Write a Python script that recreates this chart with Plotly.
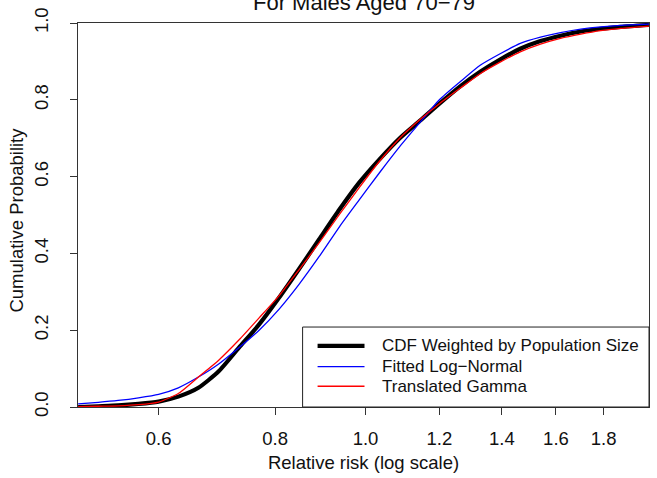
import plotly.graph_objects as go
import numpy as np

# Relative-risk grid (log-spaced) shared by the three curves
relative_risk = [0.492, 0.517, 0.543, 0.571, 0.600, 0.630, 0.662, 0.696, 0.732,
                 0.769, 0.808, 0.849, 0.892, 0.938, 0.985, 1.035, 1.088, 1.143,
                 1.200, 1.263, 1.327, 1.394, 1.465, 1.540, 1.618, 1.701, 1.787,
                 1.878, 2.013]

# Population-weighted empirical CDF
cdf_weighted = [0.000, 0.002, 0.004, 0.008, 0.014, 0.027, 0.050, 0.093, 0.155,
                0.215, 0.285, 0.360, 0.437, 0.515, 0.585, 0.645, 0.700, 0.745,
                0.790, 0.835, 0.873, 0.905, 0.933, 0.953, 0.967, 0.978, 0.985,
                0.990, 0.995]

# Fitted log-normal CDF
cdf_lognormal = [0.008, 0.012, 0.017, 0.024, 0.033, 0.050, 0.078, 0.112, 0.155,
                 0.200, 0.255, 0.320, 0.392, 0.470, 0.540, 0.610, 0.678, 0.740,
                 0.800, 0.847, 0.890, 0.920, 0.947, 0.963, 0.975, 0.984, 0.990,
                 0.994, 0.997]

# Translated gamma CDF
cdf_gamma = [0.001, 0.002, 0.003, 0.006, 0.013, 0.035, 0.078, 0.122, 0.175,
             0.232, 0.290, 0.358, 0.428, 0.502, 0.572, 0.640, 0.700, 0.748,
             0.790, 0.830, 0.868, 0.898, 0.925, 0.945, 0.960, 0.971, 0.980,
             0.986, 0.992]

x_ticks = [0.6, 0.8, 1.0, 1.2, 1.4, 1.6, 1.8]
x_tick_labels = ["0.6", "0.8", "1.0", "1.2", "1.4", "1.6", "1.8"]
y_ticks = [0.0, 0.2, 0.4, 0.6, 0.8, 1.0]
y_tick_labels = ["0.0", "0.2", "0.4", "0.6", "0.8", "1.0"]

series_names = ["CDF Weighted by Population Size", "Fitted Log\u2212Normal", "Translated Gamma"]
series_colors = ["#000000", "#0000FF", "#FF0000"]
series_widths = [4.2, 1.3, 1.3]
series_values = [cdf_weighted, cdf_lognormal, cdf_gamma]

FONT = "Liberation Sans, Arial, sans-serif"
AXIS_SIZE = 18.5
LEGEND_SIZE = 17
W, H = 657, 478
L, R, T, B = 78, 650, 18, 407  # plot area edges in pixels

fig = go.Figure()
for name, vals, col, wd in zip(series_names, series_values, series_colors, series_widths):
    fig.add_trace(go.Scatter(x=relative_risk, y=vals, mode="lines", name=name,
                             line=dict(color=col, width=wd, shape="spline", smoothing=0.6),
                             showlegend=False))

def px(xp):
    return (xp - L) / (R - L)

def py(yp):
    return (B - yp) / (B - T)

# Legend box (bottom-right)
shapes = [dict(type="rect", xref="paper", yref="paper",
               x0=px(303), x1=px(650), y0=py(407), y1=py(326),
               line=dict(color="#222", width=1), fillcolor="white", layer="above")]
annotations = []
rows = [345, 366, 386]
for name, col, wd, ry in zip(series_names, series_colors, series_widths, rows):
    shapes.append(dict(type="line", xref="paper", yref="paper",
                       x0=px(318), x1=px(365), y0=py(ry), y1=py(ry),
                       line=dict(color=col, width=wd), layer="above"))
    annotations.append(dict(xref="paper", yref="paper", x=px(381), y=py(ry),
                            text=name, showarrow=False, xanchor="left", yanchor="middle",
                            font=dict(family=FONT, size=LEGEND_SIZE, color="#111")))

# Title (second line of a two-line title; the first line sits above the page)
annotations.append(dict(xref="paper", yref="paper", x=0.5, y=py(12),
                        text="For Males Aged 70\u221279", showarrow=False,
                        xanchor="center", yanchor="bottom",
                        font=dict(family=FONT, size=22, color="#111")))

# Y-axis title, placed between the page edge and the tick labels
annotations.append(dict(xref="paper", yref="paper", x=px(16), y=py(218),
                        text="Cumulative Probability", showarrow=False, textangle=-90,
                        xanchor="center", yanchor="middle",
                        font=dict(family=FONT, size=AXIS_SIZE, color="#111")))

fig.update_layout(
    width=W, height=H,
    margin=dict(l=L, r=W - R, t=T, b=H - B, pad=0),
    paper_bgcolor="white", plot_bgcolor="white",
    font=dict(family=FONT, size=AXIS_SIZE, color="#111"),
    shapes=shapes, annotations=annotations,
    xaxis=dict(type="log", range=[np.log10(0.4918), np.log10(2.013)],
               tickvals=x_ticks, ticktext=x_tick_labels,
               showline=True, mirror=True, linecolor="#333", linewidth=1,
               ticks="outside", ticklen=7, tickcolor="#333", showgrid=False, zeroline=False,
               tickfont=dict(family=FONT, size=AXIS_SIZE, color="#111"), ticklabelstandoff=8,
               title=dict(text="Relative risk (log scale)", standoff=7,
                          font=dict(family=FONT, size=AXIS_SIZE, color="#111"))),
    yaxis=dict(range=[0, 1], tickvals=y_ticks, ticktext=y_tick_labels,
               showline=True, mirror=True, linecolor="#333", linewidth=1,
               ticks="outside", ticklen=7, tickcolor="#333", showgrid=False, zeroline=False,
               tickangle=-90, tickfont=dict(family=FONT, size=AXIS_SIZE, color="#111"),
               ticklabelstandoff=15),
)

fig.write_html("out.html")
